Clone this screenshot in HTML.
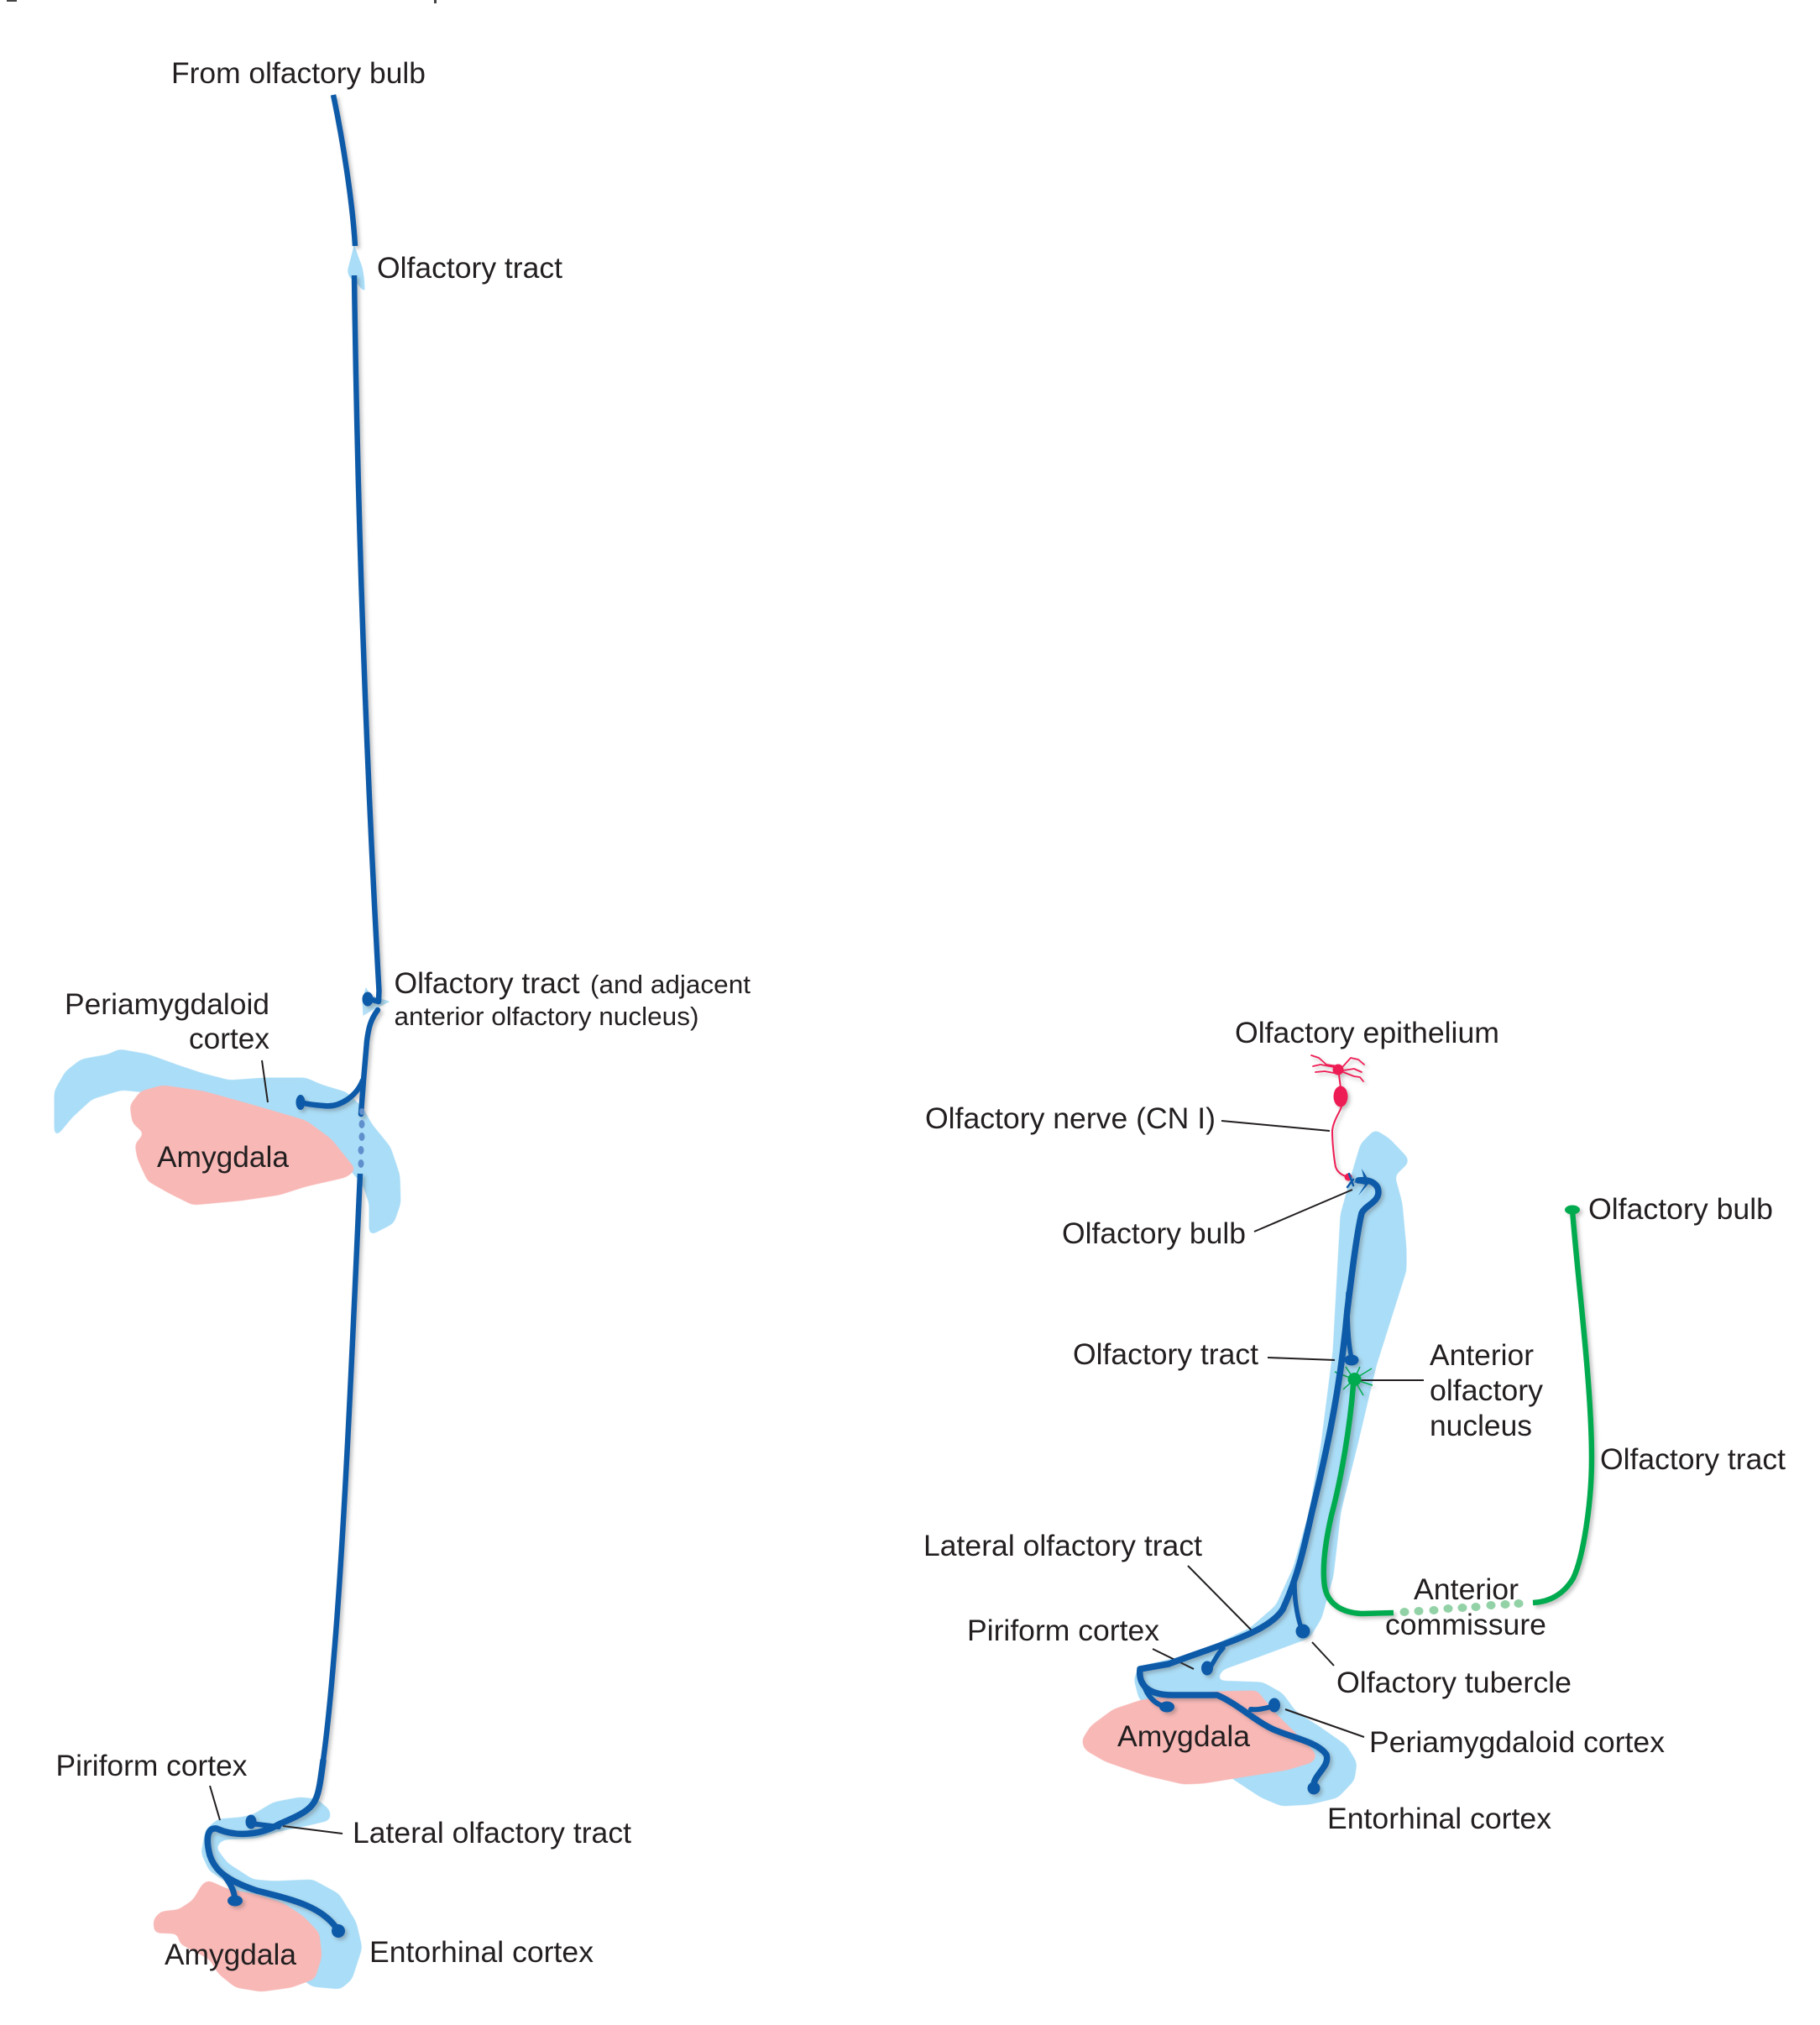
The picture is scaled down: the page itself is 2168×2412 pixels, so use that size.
<!DOCTYPE html>
<html><head><meta charset="utf-8"><style>
html,body{margin:0;padding:0;background:#fff}
svg{display:block}
text{font-family:"Liberation Sans",sans-serif;font-size:35.4px;fill:#231f20}
.b{fill:none;stroke:#0a5aa8;stroke-linecap:round;stroke-linejoin:round}
.g{fill:none;stroke:#00ab50;stroke-linecap:round;stroke-linejoin:round}
.r{fill:none;stroke:#ee1c54;stroke-width:1.8;stroke-linecap:round;stroke-linejoin:round}
.l{stroke:#231f20;stroke-width:2;fill:none}
.lb{fill:#aaddf7;stroke:#aaddf7;stroke-width:3;stroke-linejoin:round}
.pk{fill:#f8b8b6;stroke:#f8b8b6;stroke-width:3;stroke-linejoin:round}
</style></head><body>
<svg xmlns="http://www.w3.org/2000/svg" width="2168" height="2412" viewBox="0 0 2168 2412">
<defs>
<filter id="s" x="-20%" y="-5%" width="140%" height="110%"><feDropShadow dx="3" dy="3" stdDeviation="2" flood-color="#555" flood-opacity=".35"/></filter>
<filter id="goo" x="-10%" y="-10%" width="120%" height="120%" color-interpolation-filters="sRGB"><feGaussianBlur stdDeviation="4"/><feColorMatrix type="matrix" values="1 0 0 0 0 0 1 0 0 0 0 0 1 0 0 0 0 0 10 -4.500"/></filter>
</defs>
<rect width="2168" height="2412" fill="#fff"/>
<rect x="8" y="0" width="12" height="2" fill="#444"/><rect x="517" y="0" width="3" height="4" fill="#444"/>

<!-- Left: light blue -->
<path class="lb" style="stroke-width:1" d="M422 293 Q426 305 431 318 Q434 332 434 345 Q430 344 428 340 L417 330 Q414 325 415 320 Q419 305 422 293Z"/>
<path class="lb" d="M436 1177 L441 1186 L463 1193 L445 1202 L433 1209 L432 1192Z" style="fill:#b5dff5;stroke-width:1"/>
<polygon class="lb" filter="url(#goo)" points="66,1353 66,1300 79,1277 97,1263 130,1257 142,1251 176,1257 212,1270 242,1280 273,1288 315,1285 364,1285 382,1293 412,1302 431,1320 442,1340 464,1367 475,1400 476,1433 468,1456 441,1470 441,1433 433,1410 396,1368 364,1348 303,1328 242,1312 194,1302 145,1297 109,1308 85,1330"/>
<polygon class="pk" filter="url(#goo)" points="194,1294 242,1301 303,1318 364,1336 394,1358 422,1393 412,1401 364,1412 333,1422 285,1429 230,1434 200,1419 177,1406 165,1380 162,1363 174,1350 159,1337 156,1317 168,1301"/>
<polygon class="lb" filter="url(#goo)" points="301,2163 326,2148 357,2142 377,2144 392,2157 392,2167 367,2173 332,2180 306,2188 265,2190 255,2200 270,2220 301,2240 326,2242 372,2240 403,2257 423,2290 430,2320 418,2357 405,2368 372,2365 340,2340 280,2247 250,2227 241,2207 246,2180 260,2168 286,2166"/>
<polygon class="pk" filter="url(#goo)" points="248,2241 270,2251 306,2258 337,2268 361,2284 379,2303 382,2330 374,2356 347,2366 311,2371 281,2366 261,2350 251,2333 215,2314 213,2302 185,2301 184,2287 192,2278 213,2276 231,2264 242,2245"/>

<!-- Left: leaders -->
<path class="l" d="M312 1263 L319 1313"/>
<path class="l" d="M250 2127 L262 2168"/>
<path class="l" d="M337 2175 L408 2184"/>

<!-- Left: tracts -->
<g filter="url(#s)">
<path class="b" stroke-width="6.500" style="stroke-linecap:butt" d="M397 113 C408 165 420 240 423 293"/>
<path class="b" stroke-width="6.500" style="stroke-linecap:butt" d="M422 328 Q428 760 451.500 1180 L451 1193 L440 1190"/>
<ellipse cx="438" cy="1190" rx="6.500" ry="8.500" fill="#0a5aa8"/>
<path class="b" stroke-width="6.500" d="M450 1203 C441 1215 439 1225 437 1240 L433 1287 L430 1327"/>
<path class="b" stroke-width="6.500" d="M432 1287 C425 1305 405 1320 385 1317 C372 1316 365 1315 358 1313"/>
<ellipse cx="358" cy="1313" rx="5.500" ry="9" fill="#0a5aa8"/>
<path class="b" stroke-width="6.500" style="stroke-linecap:butt" d="M429 1398 C420 1600 410 1830 398 1970 C394 2020 390 2060 385 2097"/>
<path class="b" stroke-width="7.500" d="M385 2097 C382 2120 380 2135 376 2143 C370 2158 350 2165 332 2173 C310 2186 280 2188 258 2178 C245 2176 246 2195 250 2210 C256 2228 270 2240 306 2252 C345 2262 385 2270 403 2300"/>
<path class="b" stroke-width="7" d="M268 2235 C275 2245 279 2252 280 2263"/>
<ellipse cx="280" cy="2264" rx="9" ry="6.500" fill="#0a5aa8"/>
<ellipse cx="403" cy="2300" rx="8" ry="8" fill="#0a5aa8"/>
<path class="b" stroke-width="6" d="M299 2172 L332 2176"/>
<ellipse cx="299" cy="2170" rx="6.500" ry="8.500" fill="#0a5aa8"/>
</g>
<g fill="#5f8fcc"><ellipse cx="431" cy="1324" rx="3" ry="4"/><ellipse cx="431" cy="1339" rx="3.500" ry="5"/><ellipse cx="431" cy="1354" rx="3.500" ry="5"/><ellipse cx="430" cy="1370" rx="3.500" ry="5"/><ellipse cx="430" cy="1386" rx="3.500" ry="5"/></g>

<!-- Right: light blue -->
<polygon class="lb" filter="url(#goo)" points="1638,1347 1654,1357 1676,1380 1676,1385 1660,1400 1669,1433 1674,1487 1674,1513 1656,1570 1638,1627 1616,1720 1596,1800 1587,1877 1573,1927 1559,1950 1497,1973 1455,1988 1447,2003 1504,2005 1527,2018 1543,2040 1570,2057 1603,2080 1615,2100 1612,2120 1593,2140 1560,2148 1527,2150 1503,2140 1468,2117 1358,2023 1352,2000 1358,1986 1427,1970 1490,1940 1521,1913 1542,1867 1561,1800 1575,1720 1589,1610 1598,1447 1611,1400 1622,1363"/>
<polygon class="pk" filter="url(#goo)" points="1360,2026 1400,2021 1450,2016 1497,2015 1507,2028 1517,2040 1537,2060 1567,2090 1563,2098 1533,2107 1470,2117 1433,2123 1410,2124 1363,2113 1317,2097 1293,2083 1290,2073 1300,2057 1327,2037"/>

<!-- Right: leaders -->
<path class="l" d="M1455 1335 L1584 1347"/>
<path class="l" d="M1494 1467 L1611 1417"/>
<path class="l" d="M1510 1617 L1590 1620"/>
<path class="l" d="M1621 1644 L1696 1644"/>
<path class="l" d="M1415 1865 L1491 1942"/>
<path class="l" d="M1373 1964 L1422 1988"/>
<path class="l" d="M1563 1956 L1589 1984"/>
<path class="l" d="M1531 2036 L1625 2069"/>

<!-- Right: olfactory neuron -->
<g filter="url(#s)">
<path class="r" d="M1594 1270 L1580 1268 L1571 1260 L1562 1257"/>
<path class="r" d="M1589 1271 L1573 1268 L1564 1270"/>
<path class="r" d="M1589 1278 L1578 1276 L1567 1277"/>
<path class="r" d="M1600 1270 L1609 1260 L1618 1262 L1625 1268"/>
<path class="r" d="M1600 1275 L1613 1273 L1622 1277"/>
<path class="r" d="M1600 1277 L1613 1282 L1620 1283 L1624 1288"/>
<path class="r" style="stroke-width:2" d="M1595 1280 L1597 1296"/>
<circle cx="1594" cy="1274" r="6.500" fill="#ee1c54"/>
<ellipse cx="1597" cy="1306" rx="8.500" ry="12.500" fill="#ee1c54"/>
<path class="r" style="stroke-width:2" d="M1598 1318 C1596 1325 1588 1335 1587 1347 C1587 1360 1589 1380 1591 1390 C1594 1398 1600 1400 1605 1402"/>
<circle cx="1606" cy="1402" r="4.500" fill="#ee1c54"/>
</g>

<!-- Right: green -->
<g filter="url(#s)">
<path class="g" stroke-width="6.500" style="stroke-linecap:butt" d="M1612 1650 C1608 1700 1598 1760 1586 1805 C1578 1840 1575 1870 1578 1890 C1582 1912 1600 1921 1622 1922 L1660 1921"/>
<path class="g" stroke-width="6.500" style="stroke-linecap:butt" d="M1826 1909 C1845 1908 1862 1900 1874 1880 C1886 1855 1896 1790 1896 1737 C1896 1650 1880 1530 1873 1441"/>
<ellipse cx="1873" cy="1441" rx="9" ry="5.500" fill="#00ab50"/>
<circle cx="1613.500" cy="1643" r="8" fill="#00ab50"/>
<path fill="none" stroke="#00ab50" stroke-width="1.500" d="M1613 1643 L1590 1634 M1613 1643 L1603 1628 M1613 1643 L1620 1628 M1613 1643 L1634 1630 M1613 1643 L1635 1650 M1613 1643 L1600 1655 M1613 1643 L1624 1662"/>
</g>
<g fill="#93d2a6"><ellipse cx="1673" cy="1920" rx="5.500" ry="5"/><ellipse cx="1690" cy="1919" rx="5.500" ry="5"/><ellipse cx="1708" cy="1918" rx="5.500" ry="5"/><ellipse cx="1725" cy="1916" rx="5.500" ry="5"/><ellipse cx="1742" cy="1915" rx="5.500" ry="5"/><ellipse cx="1758" cy="1914" rx="5.500" ry="5"/><ellipse cx="1776" cy="1912" rx="5.500" ry="5"/><ellipse cx="1793" cy="1911" rx="5.500" ry="5"/><ellipse cx="1809" cy="1910" rx="5.500" ry="5"/></g>

<!-- Right: blue tract -->
<g filter="url(#s)">
<path class="b" stroke-width="7.500" d="M1618 1406 C1632 1404 1642 1410 1642 1420 C1642 1432 1626 1436 1622 1445 C1616 1470 1610 1520 1605 1560 C1598 1640 1585 1710 1563 1800 C1552 1850 1545 1880 1528 1917 C1510 1945 1450 1960 1392 1982 L1358 1988 C1356 2005 1365 2019 1397 2019 L1450 2019 C1475 2030 1495 2050 1517 2060 C1540 2070 1570 2075 1580 2090 C1585 2105 1562 2115 1565 2130"/>
<path fill="#0a5aa8" d="M1622 1392 L1632 1408 L1618 1424 L1626 1411 L1612 1408 L1625 1405Z"/>
<path class="b" stroke-width="2.500" d="M1607 1398 L1612 1412 M1612 1405 L1605 1414"/>
<path class="b" stroke-width="5.500" d="M1606 1540 C1604 1570 1606 1600 1610 1618"/>
<ellipse cx="1610" cy="1620" rx="8.500" ry="6.500" fill="#0a5aa8"/>
<path class="b" stroke-width="5.500" d="M1542 1885 C1542 1905 1545 1925 1551 1942"/>
<circle cx="1552" cy="1943" r="8.500" fill="#0a5aa8"/>
<path class="b" stroke-width="5.500" d="M1457 1963 C1450 1970 1447 1978 1441 1987"/>
<ellipse cx="1438" cy="1987" rx="7" ry="8.500" fill="#0a5aa8"/>
<path class="b" stroke-width="6" d="M1362 2005 C1366 2020 1376 2031 1390 2033"/>
<ellipse cx="1390" cy="2033" rx="9" ry="6.500" fill="#0a5aa8"/>
<path class="b" stroke-width="6" d="M1490 2036 C1498 2037 1506 2035 1514 2033"/>
<ellipse cx="1518" cy="2031" rx="7" ry="8.500" fill="#0a5aa8"/>
<ellipse cx="1565" cy="2130" rx="7.500" ry="7.500" fill="#0a5aa8"/>
</g>

<!-- Left labels -->
<text x="204" y="99" textLength="303" lengthAdjust="spacingAndGlyphs">From olfactory bulb</text>
<text x="449" y="331" textLength="221" lengthAdjust="spacingAndGlyphs">Olfactory tract</text>
<text x="469.500" y="1183" textLength="221" lengthAdjust="spacingAndGlyphs">Olfactory tract</text>
<text x="703" y="1183" style="font-size:30.500px" textLength="191" lengthAdjust="spacingAndGlyphs">(and adjacent</text>
<text x="469.500" y="1221" style="font-size:30.500px" textLength="363" lengthAdjust="spacingAndGlyphs">anterior olfactory nucleus)</text>
<text x="77" y="1208" textLength="244" lengthAdjust="spacingAndGlyphs">Periamygdaloid</text>
<text x="225" y="1249" textLength="96" lengthAdjust="spacingAndGlyphs">cortex</text>
<text x="187" y="1390" textLength="157" lengthAdjust="spacingAndGlyphs">Amygdala</text>
<text x="66.500" y="2115" textLength="228" lengthAdjust="spacingAndGlyphs">Piriform cortex</text>
<text x="420" y="2195" textLength="332" lengthAdjust="spacingAndGlyphs">Lateral olfactory tract</text>
<text x="196" y="2340" textLength="157" lengthAdjust="spacingAndGlyphs">Amygdala</text>
<text x="440" y="2337" textLength="267" lengthAdjust="spacingAndGlyphs">Entorhinal cortex</text>

<!-- Right labels -->
<text x="1471" y="1242" textLength="315" lengthAdjust="spacingAndGlyphs">Olfactory epithelium</text>
<text x="1102" y="1344" textLength="346" lengthAdjust="spacingAndGlyphs">Olfactory nerve (CN I)</text>
<text x="1265" y="1481" textLength="219" lengthAdjust="spacingAndGlyphs">Olfactory bulb</text>
<text x="1278" y="1625" textLength="221" lengthAdjust="spacingAndGlyphs">Olfactory tract</text>
<text x="1703" y="1626" textLength="124" lengthAdjust="spacingAndGlyphs">Anterior</text>
<text x="1703" y="1668" textLength="135" lengthAdjust="spacingAndGlyphs">olfactory</text>
<text x="1703" y="1710" textLength="122" lengthAdjust="spacingAndGlyphs">nucleus</text>
<text x="1892" y="1452" textLength="220" lengthAdjust="spacingAndGlyphs">Olfactory bulb</text>
<text x="1906" y="1750" textLength="221" lengthAdjust="spacingAndGlyphs">Olfactory tract</text>
<text x="1100" y="1853" textLength="332" lengthAdjust="spacingAndGlyphs">Lateral olfactory tract</text>
<text x="1152" y="1954" textLength="229" lengthAdjust="spacingAndGlyphs">Piriform cortex</text>
<text x="1684" y="1905" textLength="125" lengthAdjust="spacingAndGlyphs">Anterior</text>
<text x="1650" y="1947" textLength="192" lengthAdjust="spacingAndGlyphs">commissure</text>
<text x="1592" y="2016" textLength="280" lengthAdjust="spacingAndGlyphs">Olfactory tubercle</text>
<text x="1631" y="2087" textLength="352" lengthAdjust="spacingAndGlyphs">Periamygdaloid cortex</text>
<text x="1331" y="2080" textLength="158" lengthAdjust="spacingAndGlyphs">Amygdala</text>
<text x="1581" y="2178" textLength="267" lengthAdjust="spacingAndGlyphs">Entorhinal cortex</text>
</svg>
</body></html>
